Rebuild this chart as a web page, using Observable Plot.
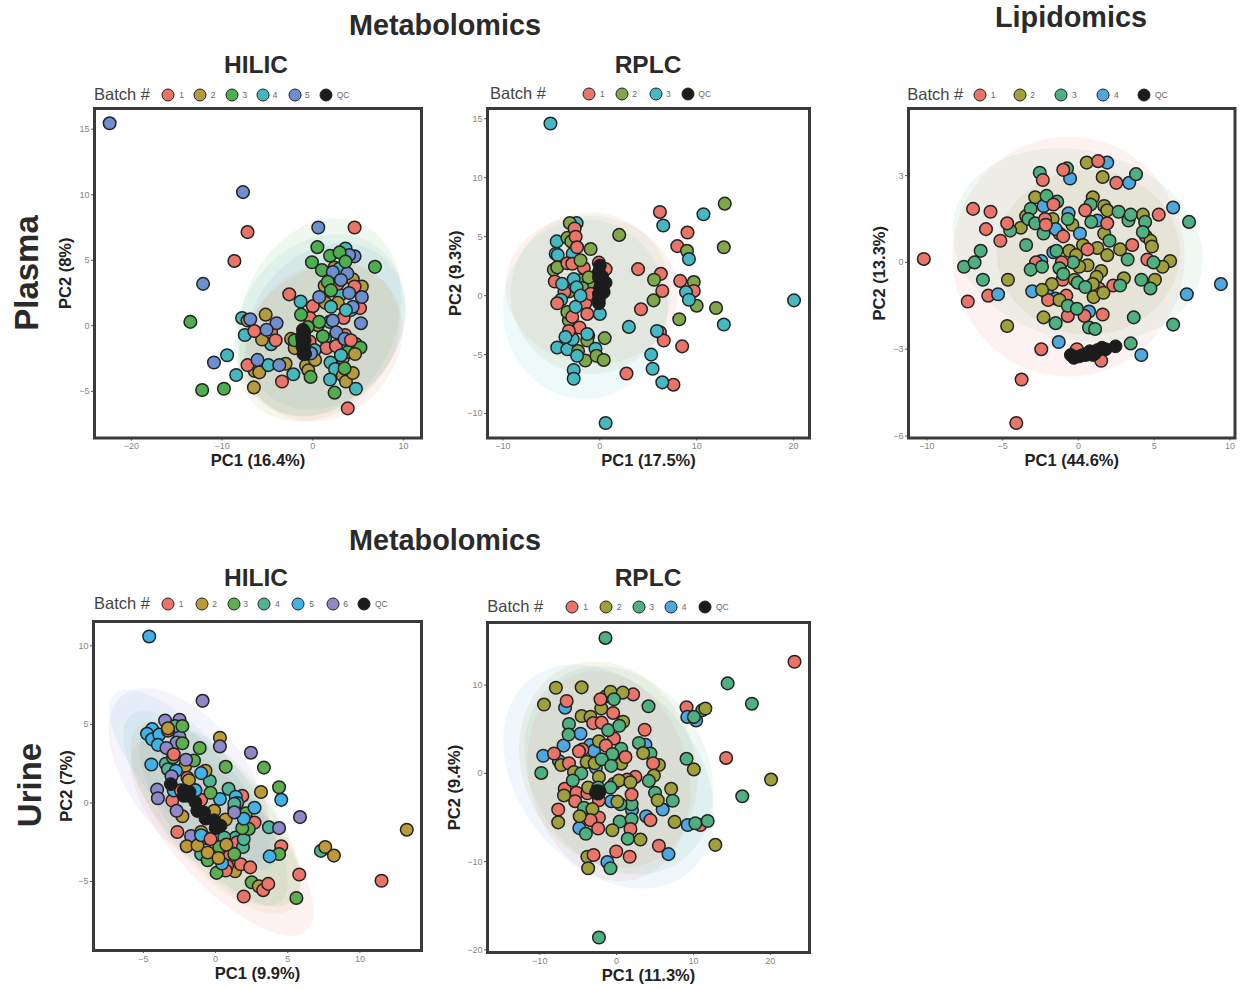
<!DOCTYPE html>
<html>
<head>
<meta charset="utf-8">
<script src="https://cdn.jsdelivr.net/npm/d3@7"></script>
<script src="https://cdn.jsdelivr.net/npm/@observablehq/plot@0.6"></script>
<style>
  html, body { margin: 0; padding: 0; background: #fff; }
  #page { position: relative; width: 1244px; height: 989px; overflow: hidden; font-family: "Liberation Sans", Arial, sans-serif; }
  .t { position: absolute; white-space: nowrap; font-weight: bold; color: #2a2a2a; transform: translate(-50%, -50%); line-height: 0.8; }
  .side { transform: translate(-50%, -50%) rotate(-90deg); }
  .batch { position: absolute; white-space: nowrap; font-size: 16.5px; color: #444; line-height: 1; }
  .lab { position: absolute; white-space: nowrap; font-size: 8.5px; color: #666; line-height: 1; }
  .sw { position: absolute; width: 11px; height: 11px; border-radius: 50%; border: 1.5px solid #222; transform: translate(-50%, -50%); }
  .panel { position: absolute; }
  .panel svg { overflow: visible; background: transparent; }
  .panel [aria-label="x-axis label"] text, .panel [aria-label="y-axis label"] text { font: bold 16.5px "Liberation Sans", Arial, sans-serif; fill: #222; }
  .panel [aria-label="x-axis tick label"] text, .panel [aria-label="y-axis tick label"] text { font: 9px "Liberation Sans", Arial, sans-serif; fill: #858585; }
</style>
</head>
<body>
<div id="page"></div>
<script>
// ---------- colours per panel ----------
const red = "#EA7468", qc = "#1c1c1c";
const p1Colors = [red, "#B59B3B", "#4DAE50", "#44B8BE", "#6E8FCF", qc];
const p2Colors = [red, "#7EA84A", "#45B9C3", qc];
const p3Colors = [red, "#A0A03A", "#4FB07F", "#4FA7DF", qc];
const p4Colors = [red, "#BE9A36", "#5EAD4F", "#50B394", "#3FB2E8", "#8E88C8", qc];
const p5Colors = [red, "#A0A03A", "#4FB07F", "#4FA7DF", qc];

// ---------- Plasma HILIC ----------
const p1b1 = [[4.6,7.5],[-7.2,7.15],[-8.65,4.95],[-2.6,2.4],[0,1.5],[2.75,3.2],[4.6,3],[5.2,1.35],[-.35,.6],[3.4,.6],[-6.45,-.4],[-4.6,-.5],[-4.1,-1.1],[-.35,-1.2],[1.5,-1.7],[2.55,-1.55],[3.55,-.7],[3.3,-2.5],[-7.2,-3],[-3.4,-4.25],[3.85,-6.3],[4.2,-1.1]];
const p1b2 = [[2.4,4.45],[4.4,3.55],[5.4,3],[1.3,3.05],[1.4,1.75],[2.75,1.75],[-5.2,.85],[-7.2,.4],[.55,.05],[-5.6,-1.05],[-2.4,-1],[-2,-1.7],[-3,-2.9],[-6.4,-3.45],[-5.9,-3.55],[-6.5,-4.7],[-.75,-3.05],[-.5,-3.4],[.25,-2.6],[3.3,-3.8],[3.65,-4.25],[4.4,-3.6],[4.65,-2.15]];
const p1b3 = [[-13.5,.3],[-12.2,-4.9],[-9.8,-4.8],[.5,6],[-.1,4.85],[1,4.25],[1.9,5.35],[2.95,5.6],[3.6,4.9],[6.85,4.5],[1.65,3.35],[2,2.7],[-1.3,.85],[.7,.3],[-.55,-.1],[-2,-1.1],[1.1,-.8],[4.75,-1.4],[5.25,-1.65],[3.85,-2],[-.25,-3.9],[2.4,-5.1],[3.5,-3.25]];
const p1b4 = [[3.6,5.9],[2.9,4.35],[1.65,2.7],[-1.35,1.85],[3,2.35],[2,1.45],[-7.8,.6],[-7.5,-.7],[-4.6,-1.4],[1.35,-.95],[1.85,.3],[4.2,1.2],[-9.45,-2.25],[-8.45,-3.75],[-4.9,-3],[-2.15,-3.7],[.2,-1.85],[1.95,-2.8],[2.45,-3.3],[1.9,-4.1],[4.75,-4.8],[3.1,-2.25],[3.65,1.2]];
const p1b5 = [[-22.4,15.45],[-7.7,10.2],[-12.1,3.2],[.6,7.5],[4.6,5.3],[4,5.4],[2.2,4.1],[3.8,4],[3.1,3.5],[4,2.5],[5.4,2.2],[.7,2.2],[4.4,1.45],[2.2,.4],[5.3,.2],[-6.9,.5],[-4,.2],[-5.1,-.3],[2.6,-.5],[3.5,-1],[-10.9,-2.8],[-6.1,-2.6],[-3.7,-3],[-.2,-2.1]];
const p1qc = [[-1.1,-.3],[-1,-.7],[-1.15,-1.1],[-.9,-1.1],[-1.1,-1.35],[-.95,-1.6],[-1.15,-1.6],[-1,-1.85],[-.85,-2.15],[-1.05,-2.15],[-1.2,-.8],[-.95,-.45]];
const p1Ellipses = [[2,.75,.65,9,7.55,.2],[3,.8,.05,9.4,6.95,.2],[4,1.45,-.05,8.8,6.35,.2],[0,1.2,-1.2,8.7,6.1,.15],[1,.65,-1.3,8.9,6,.25]];

// ---------- Plasma RPLC ----------
const p2b1 = [[6.2,7.1],[9.05,5.35],[8,4.2],[3.95,2.25],[6.3,1.85],[8.3,1.25],[6.45,.4],[9.7,.4],[4.25,-1.15],[6.2,-3.1],[6.6,-3.8],[8.5,-4.3],[2.75,-6.6],[7.6,-7.55],[-2.6,5.7],[-2.5,5],[-3.35,2.75],[-2.85,2.7],[-1.65,2.35],[-.1,2.8],[.6,2.25],[-4.65,1.2],[-3.65,.3],[-1.5,-.65],[-2.85,-1.8],[-2.1,-2.7],[-3.2,-3],[-2.35,4.1],[-.95,.15],[-1.3,-1.55],[-4.4,-.65]];
const p2b2 = [[12.9,7.8],[12.8,4.1],[9,3.8],[9.7,1.15],[5.6,1.35],[5.55,-.4],[10,-.85],[12,-1.05],[8.2,-2],[2,5.15],[-.95,3.95],[-3.1,6.15],[-3.35,4.9],[-2.95,4.6],[-4.75,2.2],[-4.4,2.4],[-2,1.3],[-1.15,1],[-1.8,.65],[-3.2,.35],[-1.15,1.55],[-3.2,-2.1],[-3.35,-1.4],[-1.2,-3.4],[-1.3,-3.8],[-2.25,-4.7],[-1.5,-5.5],[-.35,-5.1],[.4,-5.45],[.5,-3.6],[-2,3]];
const p2b3 = [[-5.1,14.6],[-2.4,6.15],[10.7,6.9],[6.55,5.95],[9.2,3.1],[-4.45,4.6],[-4.55,3.55],[-4.35,3.45],[-2.8,3.55],[8.9,.3],[9.2,-.35],[20.05,-.4],[12.8,-2.45],[3,-2.65],[5.9,-3],[5.3,-5],[5.45,-6.2],[6.45,-7.35],[.6,-10.8],[-2.7,-6.3],[-2.7,-7.05],[-4.4,-4.4],[-3.35,-4.55],[-2.8,-3.7],[-.45,-4.5],[0,-1.55],[-2.5,-.95],[-4,-.35],[-3.9,1],[-2.7,1.4],[-2.4,.7],[-2,0],[-1.3,-3.25],[-2.35,-5.1],[-3.55,-3.5]];
const p2qc = [[0,2.55],[-.1,2],[-.1,1.55],[.25,1.1],[.6,1.1],[.05,.7],[.4,.3],[-.1,.15],[-.1,-.3],[-.1,-.65],[.25,1.6],[.3,.7]];
const p2Ellipses = [[0,-.85,.5,8.9,6.3,-.05],[1,-.95,.2,8.25,6.85,0],[2,-1.5,-1.15,8.5,7.6,0]];

// ---------- Plasma Lipidomics ----------
const p3b1 = [[-10.2,.12],[-7.3,-1.35],[-6.95,1.85],[-5.8,1.75],[-6.1,1.15],[-4.7,1.35],[-5.15,.75],[-5.95,-1.15],[-3.75,-4.05],[-4.1,-5.55],[-2.45,-3],[-2.35,2.85],[-1,3.2],[1.3,3.5],[2.5,2.75],[5.3,1.65],[3.55,.6],[4.55,.1],[.45,1.8],[1.9,1.35],[-1.65,2],[-2.2,1.5],[-2.15,1.3],[-1,.9],[.6,.45],[-2.8,0],[-1.1,0],[-1.05,-.6],[-.8,-1.15],[-2,-1.3],[1.35,-.9],[2.3,-.8],[-.7,-1.85],[.4,-1.85],[1.6,-1.8],[-.1,-3],[1.5,-3.4]];
const p3b2 = [[.55,3.45],[1.6,2.95],[-2.85,2.25],[-3.8,1.2],[-3.45,1.6],[-1.7,1.5],[-1.25,1],[-.4,1.3],[.95,2.25],[1.7,1.95],[1.9,1.8],[4.25,1.65],[1.7,1],[4.45,.9],[4.75,.75],[4.85,.55],[.3,.6],[1.25,.5],[2.75,.45],[1.9,.25],[-.6,.4],[-.15,.25],[6.05,.05],[5.55,-.15],[.6,-.1],[.05,-.15],[1.5,-.3],[1.2,-.5],[3,-.55],[-.25,-.6],[.95,-.75],[5.05,-.6],[-4.65,-.6],[-1.75,-.75],[-2.4,-.95],[1,-1.2],[1.65,-1.05],[-1.25,-1.3],[-2.3,-1.9],[-4.7,-2.2]];
const p3b3 = [[-7.55,-.15],[-6.85,0],[-6.45,.4],[-6.3,-.6],[-4.5,1.1],[-3.45,.6],[-2.55,3.1],[-.75,3.25],[3.8,3.05],[-2.1,2.3],[-1.4,2.1],[-3.15,1.85],[-3.3,1.5],[-2.85,1.35],[-2.3,1],[-.7,1.5],[.8,2],[.85,1.4],[2.65,1.75],[3.3,1.45],[3.45,1.65],[4.4,1.4],[4.25,1.05],[2.05,.75],[-1.45,.4],[-.35,0],[-3.15,-.25],[-2.4,-.15],[-1.25,-.2],[-1,-.4],[3.25,.1],[4.95,0],[4.15,-.6],[4.75,-.9],[2.75,-.8],[-.05,-.7],[.45,-.85],[-.7,-1.5],[-.1,-1.6],[-1.5,-2.1],[.7,-2.25],[1.1,-2.3],[3.65,-1.9],[6.25,-2.15],[7.3,1.4],[3.45,-2.8]];
const p3b4 = [[1.9,3.45],[-.55,2.9],[3.35,2.75],[6.25,1.9],[-2.3,1.95],[-.65,1.7],[1.25,1.45],[-1.5,1.15],[.1,1],[-1.65,.35],[-2.45,.05],[-5.3,-1.1],[-3.05,-1],[-2.05,-1.1],[-1.5,-1.25],[.7,-1.7],[-1.3,-2.75],[4.15,-3.2],[7.15,-1.1],[9.4,-.75]];
const p3qc = [[-.5,-3.2],[-.3,-3.3],[.05,-3.25],[.5,-3.2],[.75,-3.07],[1.1,-3.15],[1.25,-3.03],[1.55,-2.95],[1.8,-3],[2.45,-2.9],[.95,-3.2],[.3,-3.2]];
const p3Ellipses = [[0,-.65,.2,7.65,4.15,0],[2,-.05,.6,8.25,3.35,-.15],[1,.65,.35,6.05,2.85,0]];

// ---------- Urine HILIC ----------
const p4b1 = [[11.5,-4.95],[5.8,-4.55],[4.55,-2.75],[2.7,-1.25],[1.85,.45],[-3,.15],[-3.3,4.6],[-2.65,-1.85],[-1.95,1.6],[-1,.2],[1.5,-2.5],[.95,-3.4],[1.75,-3.9],[2.4,-4.1],[.8,-4],[.7,-4.3],[1.95,-5.95],[3.3,-5.55],[3.65,-5.15],[-2.9,3.1],[-2.4,.8],[-.35,-2.3]];
const p4b2 = [[13.25,-1.7],[7.6,-2.8],[8.2,-3.35],[3,-5.3],[1.35,-4.35],[3.15,.7],[.3,4.15],[-2.1,2.35],[-.7,2.05],[-1.85,1.45],[-3.3,4.75],[-2.3,-.85],[.7,-1.05],[-.1,-.5],[-1,-1.85],[-2,-2.75],[-1.25,-2.7],[-.55,-3.15],[.75,-2.65],[.2,-3.5]];
const p4b3 = [[5.6,-6.05],[2.5,-5.05],[4.4,-3.25],[4.4,1],[3.35,2.25],[.7,2.3],[-1.1,3.5],[-1.5,2.7],[-2.3,3.8],[-2.95,2.9],[-.35,.65],[2.1,-.65],[2.3,-1.65],[1.85,-1.6],[.25,-2.8],[.07,-4.45],[-.55,-3.65],[1.3,-3.25],[-2.3,4.9]];
const p4b4 = [[7.3,-3.05],[3.7,-1.55],[.9,.9],[-.4,1.4],[-2.8,4.9],[-3.45,2.5],[-3.3,2.15],[-.6,-2.25],[1.4,-2.2],[.6,-2.2],[1.9,-2.8],[1.95,-2.3],[-1,-3.25],[1.3,-.4],[1.3,-.05],[-1.4,.8]];
const p4b5 = [[-4.6,10.6],[-4.4,4.7],[-4.75,4.4],[-4.4,4.05],[-3.9,4.35],[-4,3.7],[-4.45,2.45],[-2.75,2.05],[-1,1.9],[.3,.25],[1.4,.4],[1.5,0],[2.7,-.3],[1.95,-1],[4.55,.2],[3.75,-3.4],[.45,-3.85],[-1,-2.05],[-1.4,.8],[-2.9,.8],[-1.25,-.5]];
const p4b6 = [[-.9,6.5],[-3.5,5.25],[-2.5,5.3],[-2.5,4.2],[-2.7,3.85],[-3.4,3.5],[.3,3.6],[2.45,3.2],[-2.05,2.75],[-3.05,1.7],[-4.05,.85],[-4,.3],[-2.7,-.5],[-1.7,-2.1],[5.85,-.9],[4.4,-1.6],[1.3,-.6]];
const p4qc = [[-3.1,1.2],[-2.2,.8],[-1.85,.45],[-1.4,.05],[-1.25,-.5],[-.8,-.6],[-.7,-1],[-.1,-1.1],[0,-1.6],[.35,-1.45],[-2.2,.45],[-1.8,.7]];
const p4Ellipses = [[0,.45,-2.2,6.35,6.25,-.75],[1,0,-.9,5.9,6.15,-.7],[2,.3,-.7,5.6,5.9,-.7],[3,-.7,-.35,5.7,6.2,-.75],[4,-1.55,1.45,5.85,5.75,-.78],[5,-1.8,1.4,5.6,5.9,-.55]];

// ---------- Urine RPLC ----------
const p5b1 = [[23.15,12.65],[9.1,7.5],[14.25,1.75],[10.9,-5.85],[2.15,8.95],[-6.5,8.2],[-2.1,8.4],[-.45,6.85],[-3.05,5.7],[-1.95,5.75],[3.65,4.95],[-.35,3.95],[-1.4,3.15],[-4.45,2.7],[-4.9,2.5],[-8.15,2.25],[-6.2,1.15],[1.15,1.85],[4.75,1.15],[2.45,-.4],[1.4,-.7],[-.35,-1.2],[-6.75,-1.75],[-5.2,-2.2],[-3.8,-2.25],[-5.4,-3.15],[-7.6,-4.1],[-2.3,-3.05],[1.95,-2.4],[-2.3,-5],[-3.4,-5.3],[-2.4,-6.25],[1.8,-6.3],[4.4,-5.3],[5.5,-8.2],[-.05,-8.85],[1.7,-9.45],[-3,-9.25]];
const p5b2 = [[-9.45,7.8],[-7.9,9.7],[-4.55,9.75],[-.8,9.25],[.8,9.15],[-2,7.35],[-4.55,6.5],[-3.4,6.4],[.85,5.85],[-2.3,3.65],[11.55,7.35],[-7.2,.95],[-3.9,1.3],[-2.85,1.15],[.6,1.1],[3.45,2.3],[5.5,.95],[10.05,.45],[20.1,-.7],[-2.3,-.4],[-5.55,.15],[.3,-.8],[1.8,-1],[4.85,-.25],[-3.7,-1.6],[7.1,-1.75],[5.35,-3.05],[-6.85,-2.5],[.1,-3.2],[-3.15,-4.05],[-4.8,-4.85],[-7.6,-5.55],[-.55,-6.45],[3.1,-7.5],[7.55,-5.5],[12.85,-8.1],[-3.8,-9.45],[-3.7,-10.75]];
const p5b3 = [[-1.45,15.35],[14.45,10.2],[17.6,7.9],[-2.3,-18.6],[16.35,-2.6],[11.15,7.15],[10.05,6.4],[4.15,7.6],[-.35,8.4],[-6.2,5.6],[-6.25,4.4],[-1.1,4.9],[.35,5.4],[2.9,3.45],[4.4,2.25],[.6,2.8],[-.55,2.2],[-1.95,1.6],[-.7,.85],[9.1,1.65],[-9.8,.05],[-4.6,0],[-5.7,-.8],[4.2,-.85],[5,-2.2],[7.3,-3.1],[1.95,-3.5],[.5,-3.5],[-4.25,-3.9],[.4,-5.45],[1.95,-5.2],[10.25,-5.65],[11.85,-5.4],[-4,-6.85],[1.45,-7.4],[-.8,-10.75],[-2.4,-1.6],[-.8,-1.6]];
const p5b4 = [[-6.7,7.45],[-1.45,8.7],[9.2,6.4],[10.35,6],[-4.7,4.5],[-3.45,3.2],[-2.95,2.55],[-6.9,3.15],[3.75,3.25],[-9.55,2],[-7.5,1.4],[-2.7,.65],[-.7,-3.15],[2,-4.15],[3.85,-4.85],[6,-4.1],[9.25,-5.85],[-4.85,-6.2],[6.75,-9.15],[-1.2,-10.05]];
const p5qc = [[-2.5,-2.1],[-2.3,-2.2],[-2.6,-2],[-2.4,-2.3],[-2.2,-2.05],[-2.7,-2.2]];
const p5Ellipses = [[3,-1.05,-.35,13.7,12.7,-.32],[1,-1.1,1,11.6,11.7,-.15],[2,.3,.35,12.3,11.8,-.2],[0,-1,-.3,10.6,11.9,-.15]];

// ---------- legend entries ----------
const labels5 = ["1","2","3","4","5","QC"];
const labels3 = ["1","2","3","QC"];
const labels4 = ["1","2","3","4","QC"];
const labels6 = ["1","2","3","4","5","6","QC"];

const page = document.getElementById("page");
function text(cls, str, x, y, size) {
  const d = document.createElement("div");
  d.className = cls; d.textContent = str;
  d.style.left = x + "px"; d.style.top = y + "px";
  if (size) d.style.fontSize = size + "px";
  page.appendChild(d);
}
text("t", "Metabolomics", 445, 25.5, 28.8);
text("t", "Lipidomics", 1071, 17.5, 28.8);
text("t", "Metabolomics", 445, 540.5, 28.8);
text("t", "HILIC", 256, 64.5, 24.5);
text("t", "RPLC", 648, 64.5, 24.5);
text("t", "HILIC", 256, 577.5, 24.5);
text("t", "RPLC", 648, 577.5, 24.5);
text("t side", "Plasma", 27, 273, 33);
text("t side", "Urine", 30, 785, 33);

function legend(batchX, y, colors, labels, swX, labX) {
  text("batch", "Batch #", batchX, y - 9.5);
  colors.forEach((c, i) => {
    const s = document.createElement("div");
    s.className = "sw"; s.style.background = c;
    s.style.left = swX[i] + "px"; s.style.top = y + "px";
    page.appendChild(s);
    text("lab", labels[i], labX[i], y - 4.5);
  });
}
legend(94, 95, p1Colors, labels5, [168.3,200,232.3,262.7,295,326], [179.3,210.7,242.3,272.7,305,336.7]);
legend(490, 94, p2Colors, labels3, [589.3,622,655.7,688], [600,632.3,666,698.3]);
legend(907.3, 95, p3Colors, labels4, [980,1019.7,1061,1103.3,1144], [990.7,1030.3,1072,1114,1155]);
legend(94, 604, p4Colors, labels6, [167.7,202.3,234,264.3,298.3,333,364.3], [178.7,212.3,243.3,275,309.3,343.3,375]);
legend(487.3, 607, p5Colors, labels4, [572.3,606,639,671.3,705.3], [583.3,616.7,649.3,681.7,716]);

// stat_ellipse outline from centre, half extents and correlation, in data units
function ellipse([k, cx, cy, w, h, r]) {
  return d3.range(0, 360, 4).map(deg => {
    const t = deg * Math.PI / 180;
    return [cx + w * Math.cos(t), cy + h * (r * Math.cos(t) + Math.sqrt(1 - r * r) * Math.sin(t))];
  });
}

function panel(o) {
  const mL = 46, mR = 6, mT = 6, mB = 40;
  const w = o.x2 - o.x1, h = o.y2 - o.y1;
  const all = o.series.map((s, k) => s.map((p, i) => ({x: p[0], y: p[1], k, i})));
  // batches are woven together, as the samples ran in mixed order; QC last
  const batches = all.slice(0, -1).flat().sort((a, b) => (a.i - b.i) || (a.k - b.k));
  const qcPts = all[all.length - 1];
  const plot = Plot.plot({
    width: w + mL + mR, height: h + mT + mB,
    marginLeft: mL, marginRight: mR, marginTop: mT, marginBottom: mB,
    x: {domain: o.xd}, y: {domain: o.yd},
    marks: [
      ...o.ellipses.map(e => Plot.line(ellipse(e), {x: d => d[0], y: d => d[1], fill: o.colors[e[0]], fillOpacity: 0.09, stroke: "none"})),
      Plot.dot(batches, {x: "x", y: "y", r: 6.3, fill: d => o.colors[d.k], stroke: "#222", strokeWidth: 1.5}),
      Plot.dot(qcPts, {x: "x", y: "y", r: 6.4, fill: qc, stroke: qc, strokeWidth: 1}),
      Plot.axisX({ticks: o.xt, tickSize: 3, tickPadding: 2, stroke: "#555", label: o.xl, labelAnchor: "center", labelArrow: "none", labelOffset: 28}),
      Plot.axisY({ticks: o.yt, tickSize: 3, tickPadding: 2, stroke: "#555", label: o.yl, labelAnchor: "center", labelArrow: "none", labelOffset: o.yo}),
      Plot.frame({stroke: "#3a3a3a", strokeWidth: 3})
    ]
  });
  const d = document.createElement("div");
  d.className = "panel";
  d.style.left = (o.x1 - mL) + "px"; d.style.top = (o.y1 - mT) + "px";
  d.appendChild(plot);
  page.appendChild(d);
}

panel({x1:93.5, x2:420.5, y1:108, y2:437.5, xd:[-24.07,11.98], yd:[-8.56,16.58], xt:[-20,-10,0,10], yt:[-5,0,5,10,15], xl:"PC1 (16.4%)", yl:"PC2 (8%)", yo:35, colors:p1Colors, series:[p1b1,p1b2,p1b3,p1b4,p1b5,p1qc], ellipses:p1Ellipses});
panel({x1:487, x2:809, y1:108, y2:437.5, xd:[-11.6,21.65], yd:[-12.07,15.87], xt:[-10,0,10,20], yt:[-10,-5,0,5,10,15], xl:"PC1 (17.5%)", yl:"PC2 (9.3%)", yo:38, colors:p2Colors, series:[p2b1,p2b2,p2b3,p2qc], ellipses:p2Ellipses});
panel({x1:907.5, x2:1234, y1:108, y2:437.5, xd:[-11.21,10.33], yd:[-6.07,5.32], xt:[-10,-5,0,5,10], yt:[-6,-3,0,3], xl:"PC1 (44.6%)", yl:"PC2 (13.3%)", yo:35, colors:p3Colors, series:[p3b1,p3b2,p3b3,p3b4,p3qc], ellipses:p3Ellipses});
panel({x1:93, x2:421, y1:621, y2:950, xd:[-8.46,14.27], yd:[-9.39,11.55], xt:[-5,0,5,10], yt:[-5,0,5,10], xl:"PC1 (9.9%)", yl:"PC2 (7%)", yo:33, colors:p4Colors, series:[p4b1,p4b2,p4b3,p4b4,p4b5,p4b6,p4qc], ellipses:p4Ellipses});
panel({x1:487, x2:809, y1:621.5, y2:951.5, xd:[-16.8,25.1], yd:[-20.3,17.1], xt:[-10,0,10,20], yt:[-20,-10,0,10], xl:"PC1 (11.3%)", yl:"PC2 (9.4%)", yo:39, colors:p5Colors, series:[p5b1,p5b2,p5b3,p5b4,p5qc], ellipses:p5Ellipses});
</script>
</body>
</html>
